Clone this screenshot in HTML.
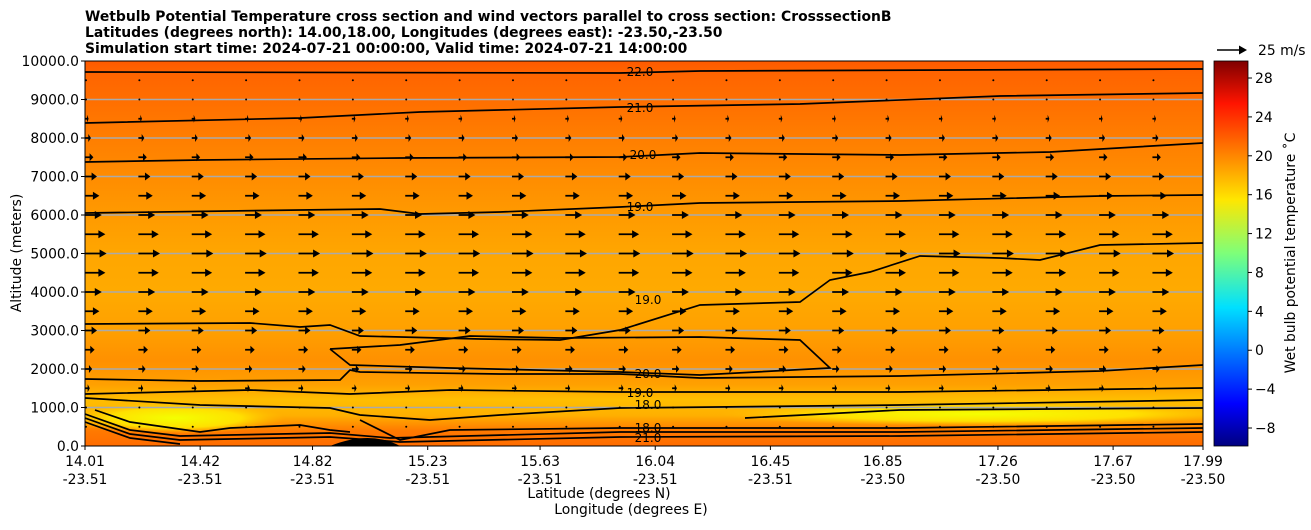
<!DOCTYPE html>
<html><head><meta charset="utf-8"><style>
body{margin:0;background:#fff;font-family:"DejaVu Sans","Liberation Sans",sans-serif}
text{font-family:"DejaVu Sans","Liberation Sans",sans-serif}
</style></head><body>
<svg id="c" width="1311" height="526" xmlns="http://www.w3.org/2000/svg">
<defs>
<clipPath id="clip"><rect x="85" y="61" width="1118" height="385"/></clipPath>
<linearGradient id="bg" x1="0" y1="0" x2="0" y2="1">
<stop offset="0" stop-color="#ff5a00"/><stop offset="0.03" stop-color="#ff6400"/><stop offset="0.1" stop-color="#ff6e00"/>
<stop offset="0.2" stop-color="#ff7e00"/><stop offset="0.3" stop-color="#ff8c00"/>
<stop offset="0.4" stop-color="#ff9a00"/><stop offset="0.5" stop-color="#ffa600"/>
<stop offset="0.6" stop-color="#ffaa00"/><stop offset="0.7" stop-color="#ffa000"/>
<stop offset="0.78" stop-color="#ff9000"/><stop offset="0.84" stop-color="#ffa000"/>
<stop offset="0.88" stop-color="#ffbe00"/><stop offset="0.92" stop-color="#ffb000"/>
<stop offset="0.96" stop-color="#ff7a00"/><stop offset="1" stop-color="#ff6c00"/></linearGradient>
<linearGradient id="jet" x1="0" y1="1" x2="0" y2="0">
<stop offset="0" stop-color="#00007f"/><stop offset="0.11" stop-color="#0000ff"/>
<stop offset="0.36" stop-color="#00e0ff"/><stop offset="0.5" stop-color="#7dff7a"/>
<stop offset="0.64" stop-color="#ffe600"/><stop offset="0.89" stop-color="#ff1400"/>
<stop offset="1" stop-color="#7f0000"/></linearGradient>
<radialGradient id="yl"><stop offset="0" stop-color="#f4ff00"/><stop offset="0.6" stop-color="#ffe000"/><stop offset="1" stop-color="#ffc000" stop-opacity="0"/></radialGradient>
</defs>
<g id="plot" clip-path="url(#clip)"></g>
<g id="axes"></g>
</svg>
<script>
const latTicks=[14.01,14.42,14.82,15.23,15.63,16.04,16.45,16.85,17.26,17.67,17.99];
const lonTicks=["-23.51","-23.51","-23.51","-23.51","-23.51","-23.51","-23.51","-23.50","-23.50","-23.50","-23.50"];
const altTicks=[0,1000,2000,3000,4000,5000,6000,7000,8000,9000,10000];
const cbTicks=[-8,-4,0,4,8,12,16,20,24,28];
const windAlts=[500,1000,1500,2000,2500,3000,3500,4000,4500,5000,5500,6000,6500,7000,7500,8000,8500,9000,9500];
const windU=[1,2,4,6,8,10,12,14,17,18,17,14,12,10,7,5,3,1.5,0.8];
const windLats=[14.01,14.2,14.39,14.58,14.77,14.96,15.15,15.34,15.53,15.72,15.91,16.1,16.29,16.48,16.67,16.86,17.05,17.24,17.43,17.62,17.81];
const P=(x,y)=>[14.01+(x-85)/280.9,(446-y)/0.0385];
const cont=[
 ["22.0",[[85,72],[620,73],[700,71],[1203,69]]],
 ["21.0",[[85,123],[300,118],[420,112],[620,107],[800,104],[1000,96],[1203,93]]],
 ["20.0",[[85,162],[200,160],[400,158],[620,157],[700,153],[900,155],[1050,152],[1203,143]]],
 ["19.0",[[85,213],[300,210],[380,209],[420,214],[500,212],[620,207],[700,203],[900,201],[1100,196],[1203,195]]],
 ["19.0",[[85,324],[250,323],[300,327],[330,325],[360,336],[480,339],[560,340],[620,330],[700,305],[800,302],[830,280],[870,272],[920,256],[1000,258],[1040,260],[1100,245],[1203,243]]],
 ["20.0",[[330,349],[400,345],[470,336],[560,338],[700,337],[800,340],[830,368],[700,375],[620,372],[450,368],[350,365],[330,349]]],
 ["20.0",[[85,379],[200,381],[340,380],[350,370],[360,372],[500,374],[620,374],[700,378],[900,376],[1100,371],[1203,365]]],
 ["19.0",[[85,394],[250,390],[350,394],[450,390],[620,392],[900,392],[1203,388]]],
 ["18.0",[[85,398],[200,405],[330,408],[360,415],[430,420],[500,415],[620,408],[900,405],[1203,400]]],
 ["17.0",[[95,410],[130,422],[200,432],[230,428],[300,425],[330,430],[350,432]]],
 ["18.0",[[360,420],[400,440],[450,430],[620,428],[900,428],[1203,424]]],
 ["18.0",[[85,414],[130,430],[180,436],[330,433],[390,438],[620,432],[900,432],[1203,428]]],
 ["21.0",[[85,418],[130,434],[180,440],[330,437],[400,442],[620,437],[900,436],[1203,432]]],
 ["22.0",[[85,422],[130,438],[180,444]]],
 ["17.0",[[745,418],[900,410],[1203,408]]]
];
const X0=85,X1=1203,Y0=446,Y1=61,FS=13.9;
const xs=l=>X0+(l-14.01)/(17.99-14.01)*(X1-X0);
const ys=a=>Y0-a/10000*(Y0-Y1);
const cbY=v=>446-(v+9.85)/(39.6)*385;
const NS="http://www.w3.org/2000/svg";
const g=document.getElementById('plot'),ax=document.getElementById('axes');
function mk(t,a,p){const e=document.createElementNS(NS,t);for(const k in a)e.setAttribute(k,a[k]);(p||g).appendChild(e);return e;}
let e=mk('rect',{x:X0,y:Y1,width:X1-X0,height:Y0-Y1,fill:'url(#bg)'});


e=mk('ellipse',{cx:175,cy:418,rx:110,ry:16,fill:'url(#yl)'});


e=mk('ellipse',{cx:980,cy:414,rx:260,ry:12,fill:'url(#yl)'});


e=mk('path',{d:'M330,446 Q370,430 400,446Z',fill:'#000'});


altTicks.forEach(a=>{if(a>0&&a<10000){const l=mk('line',{x1:X0,x2:X1,y1:ys(a),y2:ys(a),stroke:'#aaa','stroke-width':1.5});

}});
cont.forEach(c=>{const pts=c[1].map(p=>P(p[0],p[1]));
 const d=pts.map((p,i)=>(i?'L':'M')+xs(p[0]).toFixed(1)+','+ys(p[1]).toFixed(1)).join('');
 const el=mk('path',{d:d,fill:'none',stroke:'#000','stroke-width':1.7});
 
 });
[["22.0",640,72],["21.0",640,108],["20.0",643,155],["19.0",640,207],["19.0",648,300],["20.0",648,374],["19.0",640,393],["18.0",648,405],["18.0",648,428],["21.0",648,438]].forEach(t=>{
 const tx=mk('text',{x:t[1],y:t[2]+4,'font-size':12,'text-anchor':'middle'});tx.textContent=t[0];
 
 });
windAlts.forEach((a,i)=>windLats.forEach(l=>{const x=xs(l),y=ys(a),L=windU[i]*1.2;
 let el;
 if(L<3){el=mk('circle',{cx:x+1,cy:y,r:1,fill:'#000'});}
 else{const h=Math.min(7,L*0.45);el=mk('path',{d:`M${x},${y-0.9}L${x+L-h},${y-0.9}L${x+L-h},${y-4}L${x+L},${y}L${x+L-h},${y+4}L${x+L-h},${y+0.9}L${x},${y+0.9}Z`,fill:'#000'});}
 
 }));
e=mk('rect',{x:X0,y:Y1,width:X1-X0,height:Y0-Y1,fill:'none',stroke:'#000','stroke-width':1},ax);


altTicks.forEach(a=>{const y=ys(a);mk('line',{x1:X0-4,x2:X0,y1:y,y2:y,stroke:'#000'},ax);
 const t=mk('text',{x:X0-6,y:y+5,'font-size':FS,'text-anchor':'end'},ax);t.textContent=a.toFixed(1);
 
 });
latTicks.forEach((l,i)=>{const x=xs(l);mk('line',{x1:x,x2:x,y1:Y0,y2:Y0+4,stroke:'#000'},ax);
 const t=mk('text',{x:x,y:466,'font-size':FS,'text-anchor':'middle'},ax);t.textContent=l.toFixed(2);
 
 
 const t2=mk('text',{x:x,y:484,'font-size':FS,'text-anchor':'middle'},ax);t2.textContent=lonTicks[i];
 
 });
e=mk('rect',{x:1214,y:61,width:34,height:385,fill:'url(#jet)',stroke:'#000','stroke-width':0.8},ax);


cbTicks.forEach(v=>{const y=cbY(v);mk('line',{x1:1248,x2:1252,y1:y,y2:y,stroke:'#000'},ax);
 const t=mk('text',{x:1255,y:y+5,'font-size':FS},ax);t.textContent=v<0?'\u2212'+(-v):v;
 
 });
</script>
<svg style="position:absolute;left:0;top:0" width="1311" height="526">
<g font-size="13.9">
<text x="85" y="21" font-weight="bold">Wetbulb Potential Temperature cross section and wind vectors parallel to cross section: CrosssectionB</text>
<text x="85" y="37" font-weight="bold">Latitudes (degrees north): 14.00,18.00, Longitudes (degrees east): -23.50,-23.50</text>
<text x="85" y="53" font-weight="bold">Simulation start time: 2024-07-21 00:00:00, Valid time: 2024-07-21 14:00:00</text>
<text x="599" y="498" text-anchor="middle">Latitude (degrees N)</text>
<text x="631" y="514" text-anchor="middle">Longitude (degrees E)</text>
<text transform="translate(21,253) rotate(-90)" text-anchor="middle">Altitude (meters)</text>
<text transform="translate(1295,253) rotate(-90)" text-anchor="middle">Wet bulb potential temperature ˚C</text>
<text x="1258" y="55">25 m/s</text>
</g>
<path d="M1217,49.2L1239,49.2L1239,45.5L1247,50L1239,54.5L1239,50.8L1217,50.8Z" fill="#000"/>
</svg>
</body></html>
